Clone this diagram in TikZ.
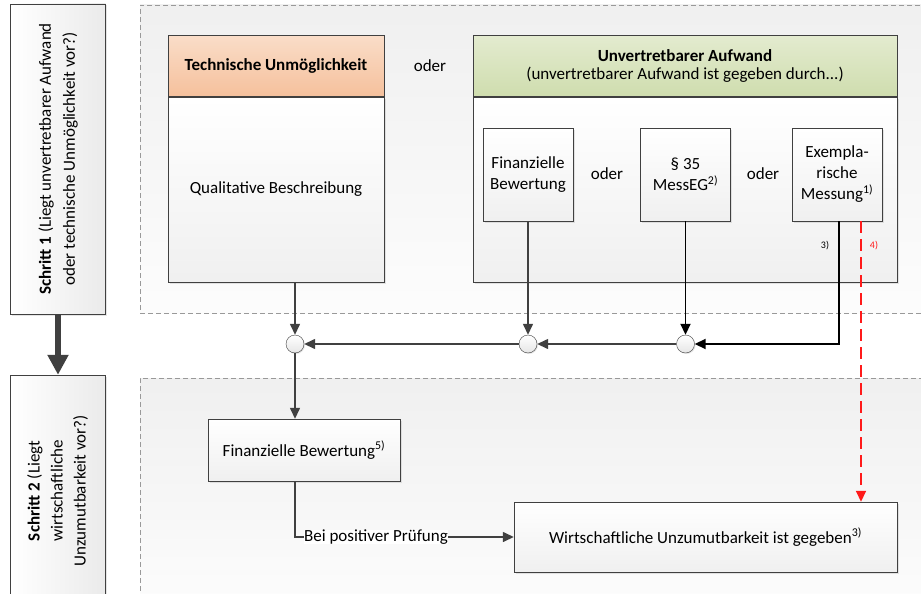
\documentclass[tikz,border=0pt]{standalone}
\usepackage{fontspec}
\setmainfont{Carlito}
\usetikzlibrary{arrows.meta,positioning,shadows}

\definecolor{lineGray}{HTML}{404040}
\definecolor{orangeTop}{HTML}{FADDC8}
\definecolor{orangeBot}{HTML}{F5C09C}
\definecolor{greenTop}{HTML}{E3EBCF}
\definecolor{greenBot}{HTML}{CFDDAE}
\definecolor{dashRed}{HTML}{FF1A1A}

\begin{document}
\begin{tikzpicture}[x=1pt,y=-1pt,>={Triangle[length=11pt,width=10pt]},
    font=\fontsize{17}{21}\selectfont]
                \tikzstyle{region}=[draw=gray!80,dash pattern=on 5pt off 3pt,top color=black!6,bottom color=black!1,inner sep=0pt]
                \tikzstyle{stepbox}=[draw=lineGray,left color=white,right color=black!8,inner sep=0pt,minimum width=95pt,drop shadow={opacity=0.2,shadow xshift=1.5pt,shadow yshift=-1.5pt}]
                \tikzstyle{optbox}=[draw=lineGray,top color=white,bottom color=black!6,align=center,inner sep=0pt,drop shadow={opacity=0.2,shadow xshift=1.5pt,shadow yshift=-1.5pt}]
                \tikzstyle{headbox}=[draw=lineGray,align=center,inner sep=0pt,minimum height=61pt]
                \tikzstyle{junction}=[circle,draw=lineGray,top color=white,bottom color=black!10,minimum size=18pt,inner sep=0pt,drop shadow={opacity=0.2,shadow xshift=1pt,shadow yshift=-1pt}]
                \tikzstyle{flow}=[draw=lineGray,line width=1.4pt]
                \tikzstyle{note}=[font=\fontsize{10}{11}\selectfont,inner sep=0pt]
                \useasboundingbox (0,0) rectangle (921,594);
                \fill[white] (0,0) rectangle (921,594);

                % dashed areas of the two steps
                \node[region,minimum width=800pt,minimum height=308pt] (reg-1) at (540,159) {};
                \node[region,minimum width=800pt,minimum height=232pt] (reg-2) at (540,494) {};

                % step boxes on the left
                \node[stepbox,minimum height=310pt] (step-1) at (58,159)
                    {\rotatebox{90}{\fontsize{17}{24}\selectfont\begin{tabular}{@{}c@{}}\textbf{Schritt 1} (Liegt unvertretbarer Aufwand\\oder technische Unmöglichkeit vor?)\end{tabular}}};
                \node[stepbox,minimum height=232pt] (step-2) at (58,491)
                    {\rotatebox{90}{\fontsize{17}{23}\selectfont\begin{tabular}{@{}c@{}}\textbf{Schritt 2} (Liegt\\wirtschaftliche\\Unzumutbarkeit vor?)\end{tabular}}};
                \draw[line width=6pt,lineGray,-{Triangle[length=20pt,width=20pt]}] (step-1) -- (step-2);

                % step 1
                \node[optbox,minimum width=216pt,minimum height=185pt] (tech) at (276,189.5) {Qualitative Beschreibung};
                \node[headbox,top color=orangeTop,bottom color=orangeBot,minimum width=216pt,above=0pt of tech] (tech-head)
                    {\textbf{Technische Unmöglichkeit}};
                \node[optbox,minimum width=424pt,minimum height=185pt] (unv) at (685,189.5) {};
                \node[headbox,top color=greenTop,bottom color=greenBot,minimum width=424pt,above=0pt of unv] (unv-head)
                    {\textbf{Unvertretbarer Aufwand}\\[-3pt](unvertretbarer Aufwand ist gegeben durch...)};
                \node (oder-1) at (430,66) {oder};

                \node[optbox,minimum width=90pt,minimum height=93pt] (fin-opt) at (528,174.5) {Finanzielle\\Bewertung};
                \node[optbox,minimum width=90pt,minimum height=93pt] (messeg) at (685.5,174.5) {§ 35\\MessEG\textsuperscript{2)}};
                \node[optbox,minimum width=90pt,minimum height=93pt] (exem) at (837,174.5) {Exempla-\\rische\\Messung\textsuperscript{1)}};
                \node (oder-2) at (607,174) {oder};
                \node (oder-3) at (763,174) {oder};
                \node[note] (note-3) at (825,246) {3)};
                \node[note,text=dashRed] (note-4) at (874,246) {4)};

                \foreach \num/\x in {1/295, 2/528, 3/685.5}
                    \node[junction] (J-\num) at (\x,344) {};

                % step 2
                \node[optbox,minimum width=192pt,minimum height=62pt] (fin-bew) at (304,450) {Finanzielle Bewertung\textsuperscript{5)}};
                \node[optbox,minimum width=383pt,minimum height=70pt] (wirt) at (705.5,537) {Wirtschaftliche Unzumutbarkeit ist gegeben\textsuperscript{3)}};

                \draw[flow,->] (J-1 |- tech.south) -- (J-1);
                \draw[flow,->] (fin-opt) -- (J-2);
                \draw[line width=1.8pt,->] (messeg) -- (J-3);
                \draw[line width=1.8pt,->] ([xshift=2pt]exem.south) |- (J-3);
                \draw[flow,->] (J-3) -- (J-2);
                \draw[flow,->] (J-2) -- (J-1);
                \draw[flow,->] (J-1) -- (J-1 |- fin-bew.north);
                \draw[flow,->] (J-1 |- fin-bew.south) |- node[pos=0.685,fill=white,inner sep=0pt] (pos-check) {Bei positiver Prüfung} (wirt);
                \draw[dashRed,line width=1.6pt,dash pattern=on 12pt off 6pt,->] ([xshift=24pt]exem.south) -- ([xshift=24pt]exem.south |- wirt.north);
            \end{tikzpicture}
\end{document}
